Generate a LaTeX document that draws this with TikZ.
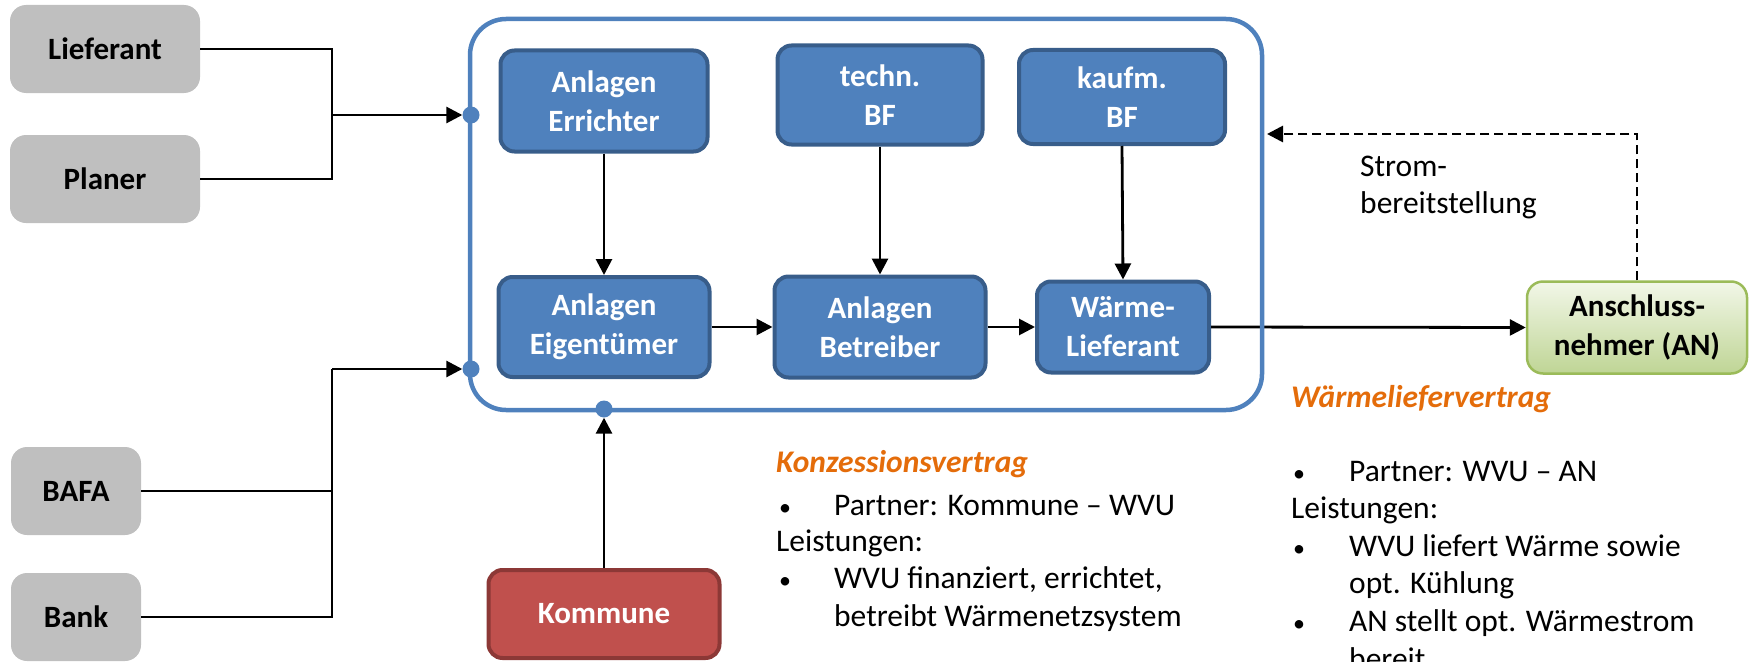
\documentclass[tikz,border=0pt]{standalone}
\usepackage{fontspec}
\setmainfont{Carlito}
\usetikzlibrary{arrows.meta}
\definecolor{gbox}{HTML}{BFBFBF}
\definecolor{bfill}{HTML}{4F81BD}
\definecolor{bdraw}{HTML}{385D8A}
\definecolor{rfill}{HTML}{C0504D}
\definecolor{rdraw}{HTML}{8C3836}
\definecolor{gtop}{HTML}{F2F7E8}
\definecolor{gbot}{HTML}{BFD595}
\definecolor{gdraw}{HTML}{9BBB59}
\definecolor{orng}{HTML}{E46C0A}
\newcommand{\smbul}{{\fontsize{24}{24}\selectfont\textbullet}}
\tikzset{
 txt/.style={font=\fontsize{31.5}{38}\selectfont, inner sep=0, anchor=base west},
 head/.style={txt, text=orng, font=\fontsize{31.5}{38}\selectfont\bfseries\itshape},
 graybox/.style={fill=gbox, rounded corners=16, minimum width=130, minimum height=88, inner sep=0,
   font=\fontsize{31}{38}\selectfont\bfseries, align=center},
 bluebox/.style={fill=bfill, draw=bdraw, line width=4, rounded corners=14, text=white, inner sep=0,
   font=\fontsize{31}{39}\selectfont\bfseries, align=center},
 redbox/.style={fill=rfill, draw=rdraw, line width=4, rounded corners=14, text=white, inner sep=0,
   font=\fontsize{31}{39}\selectfont\bfseries, align=center},
 greenbox/.style={top color=gtop, bottom color=gbot, draw=gdraw, line width=2.5, rounded corners=16, inner sep=0,
   font=\fontsize{31}{39}\selectfont\bfseries, align=center},
 conn/.style={line width=2.8, -{Triangle[length=16,width=16]}},
 plain/.style={line width=2.8},
 dotc/.style={circle, fill=bfill, minimum size=17, inner sep=0},
}
\begin{document}
\begin{tikzpicture}[x=1pt,y=-1pt]
\useasboundingbox (0,0) rectangle (1750,661);
% gray boxes
\node[graybox, minimum width=190] (lief) at (105,49) {Lieferant};
\node[graybox, minimum width=190] (plan) at (105,179) {Planer};
\node[graybox] (bafa) at (76,491) {BAFA};
\node[graybox] (bank) at (76,617) {Bank};
% blue boxes
\node[bluebox, minimum width=207, minimum height=101] (err) at (604,101) {Anlagen\\Errichter};
\node[bluebox, minimum width=205, minimum height=99] (tech) at (880,95) {techn.\\BF};
\node[bluebox, minimum width=206, minimum height=94] (kauf) at (1122,97) {kaufm.\\BF};
\node[bluebox, minimum width=211, minimum height=100] (eig) at (604,327) {Anlagen\\Eigentümer};
\node[bluebox, minimum width=211, minimum height=101] (betr) at (880,327) {Anlagen\\Betreiber};
\node[bluebox, minimum width=172, minimum height=91] (waer) at (1123,327) {Wärme-\\Lieferant};
% red and green
\node[redbox, minimum width=231, minimum height=88] (komm) at (604,614) {Kommune};
\node[greenbox, minimum width=220, minimum height=92] (an) at (1637,327.5) {Anschluss-\\nehmer (AN)};
% dots
\node[dotc] (d1) at (471,115) {};
\node[dotc] (d2) at (471,369) {};
\node[dotc] (d3) at (604,409) {};
\coordinate (j1) at (332,115);
\coordinate (j2) at (332,369);
\coordinate (sb) at (1267,134);
% connectors
\draw[plain] (lief.east) -| (j1);
\draw[plain] (plan.east) -| (j1);
\draw[conn] (j1) -- (d1.west);
\draw[plain] (bafa.east) -| (j2);
\draw[plain] (bank.east) -| (j2);
\draw[conn] (j2) -- (d2.west);
\draw[conn] (komm.north) -- (d3.south);
\draw[conn] (err.south) -- (eig.north);
\draw[conn] (tech.south) -- (betr.north);
\draw[conn] (kauf.south) -- (waer.north);
\draw[conn] (eig.east) -- (betr.west);
\draw[conn] (betr.east) -- (waer.west);
\draw[conn] (waer.east) -- (an.west);
\draw[conn, dash pattern=on 9pt off 5pt] (an.north) |- (sb);
% container
\node[draw=bfill, line width=4.5, rounded corners=36, minimum width=792, minimum height=391, inner sep=0] (cont) at (866,214.5) {};
% labels
\node[txt] (s1) at (1360,176) {Strom-};
\node[txt] (s2) at (1360,213) {bereitstellung};
% Konzessionsvertrag
\node[head] (k0) at (776,472) {Konzessionsvertrag};
\node[txt] (k1b) at (779,515) {\smbul};
\node[txt] (k1) at (834,515) {Partner: Kommune – WVU};
\node[txt] (k2) at (776,551) {Leistungen:};
\node[txt] (k3b) at (779,588) {\smbul};
\node[txt] (k3) at (834,588) {WVU finanziert, errichtet,};
\node[txt] (k4) at (834,626) {betreibt Wärmenetzsystem};
% Waermeliefervertrag
\node[head] (w0) at (1291,407) {Wärmeliefervertrag};
\node[txt] (w1b) at (1293,481) {\smbul};
\node[txt] (w1) at (1349,481) {Partner: WVU – AN};
\node[txt] (w2) at (1291,518) {Leistungen:};
\node[txt] (w3b) at (1293,556) {\smbul};
\node[txt] (w3) at (1349,556) {WVU liefert Wärme sowie};
\node[txt] (w4) at (1349,593) {opt. Kühlung};
\node[txt] (w5b) at (1293,631) {\smbul};
\node[txt] (w5) at (1349,631) {AN stellt opt. Wärmestrom};
\node[txt] (w6) at (1349,669) {bereit};
\end{tikzpicture}
\end{document}
